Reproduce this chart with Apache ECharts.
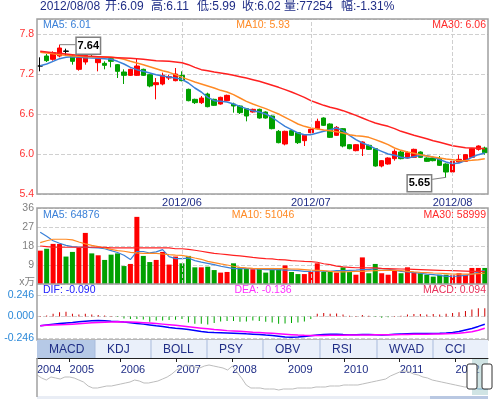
<!DOCTYPE html>
<html>
<head>
<meta charset="utf-8">
<script src="https://cdn.jsdelivr.net/npm/echarts@6/dist/echarts.min.js"></script>
<style>
  html, body { margin: 0; padding: 0; background: #fff; }
  #main { width: 494px; height: 399px; }
</style>
</head>
<body>
<div id="main"></div>
<script>
// trading days on screen, 2012/05/02 .. 2012/08/08
const mayDays = [2, 3, 4, 7, 8, 9, 10, 11, 14, 15, 16, 17, 18, 21, 22, 23, 24, 25, 28, 29, 30, 31];
const junDays = [1, 4, 5, 6, 7, 8, 11, 12, 13, 14, 15, 18, 19, 20, 21, 25, 26, 27, 28, 29];
const julDays = [2, 3, 4, 5, 6, 9, 10, 11, 12, 13, 16, 17, 18, 19, 20, 23, 24, 25, 26, 27, 30, 31];
const augDays = [1, 2, 3, 6, 7, 8];

// [open, close, low, high]
const candles = [
  [7.32, 7.32, 7.24, 7.45], [7.47, 7.40, 7.38, 7.50], [7.42, 7.52, 7.40, 7.54], [7.47, 7.59, 7.45, 7.64],
  [7.545, 7.54, 7.47, 7.58], [7.47, 7.39, 7.34, 7.48], [7.27, 7.45, 7.25, 7.47], [7.38, 7.48, 7.34, 7.54],
  [7.59, 7.50, 7.47, 7.60], [7.37, 7.43, 7.24, 7.44], [7.36, 7.33, 7.27, 7.39], [7.43, 7.39, 7.30, 7.45],
  [7.34, 7.24, 7.14, 7.35], [7.23, 7.18, 7.05, 7.27], [7.18, 7.27, 7.17, 7.28], [7.18, 7.32, 7.17, 7.43],
  [7.27, 7.18, 7.17, 7.28], [7.19, 7.02, 7.00, 7.20], [7.04, 7.07, 6.82, 7.14], [7.05, 7.18, 7.03, 7.22],
  [7.14, 7.16, 7.11, 7.19], [7.10, 7.20, 7.09, 7.29], [7.18, 7.10, 7.09, 7.24], [6.97, 6.80, 6.79, 6.98],
  [6.82, 6.77, 6.75, 6.83], [6.77, 6.84, 6.75, 6.87], [6.90, 6.71, 6.70, 6.92], [6.82, 6.73, 6.72, 6.83],
  [6.75, 6.85, 6.74, 6.86], [6.80, 6.88, 6.79, 6.89], [6.75, 6.72, 6.62, 6.77], [6.72, 6.62, 6.60, 6.73],
  [6.68, 6.57, 6.49, 6.69], [6.63, 6.67, 6.62, 6.68], [6.67, 6.54, 6.53, 6.68], [6.63, 6.54, 6.53, 6.64],
  [6.57, 6.38, 6.37, 6.58], [6.34, 6.17, 6.16, 6.36], [6.15, 6.34, 6.13, 6.35], [6.35, 6.28, 6.27, 6.37],
  [6.32, 6.17, 6.15, 6.33], [6.20, 6.28, 6.12, 6.29], [6.32, 6.37, 6.31, 6.38], [6.38, 6.49, 6.37, 6.53],
  [6.54, 6.43, 6.42, 6.55], [6.45, 6.25, 6.24, 6.46], [6.28, 6.40, 6.27, 6.42], [6.38, 6.12, 6.10, 6.39],
  [6.14, 6.08, 6.07, 6.15], [6.05, 6.14, 6.04, 6.15], [6.08, 6.18, 5.97, 6.19], [6.13, 6.07, 6.06, 6.14],
  [6.08, 5.82, 5.81, 6.09], [5.82, 5.90, 5.80, 5.91], [5.85, 5.94, 5.84, 5.95], [5.93, 6.04, 5.90, 6.07],
  [6.03, 5.93, 5.92, 6.05], [5.94, 6.02, 5.93, 6.04], [5.95, 6.07, 5.94, 6.08], [6.03, 5.95, 5.94, 6.04],
  [5.94, 5.89, 5.88, 5.95], [5.94, 5.90, 5.89, 5.95], [5.93, 5.83, 5.82, 5.97], [5.85, 5.73, 5.65, 5.86],
  [5.73, 5.89, 5.72, 5.90], [5.88, 5.92, 5.87, 5.99], [5.89, 5.99, 5.88, 6.00], [5.95, 6.08, 5.94, 6.09],
  [6.07, 6.12, 6.05, 6.13], [6.09, 6.02, 5.99, 6.11]
];

const ma5 = [7.325, 7.35, 7.39, 7.43, 7.45, 7.46, 7.455, 7.445, 7.44, 7.435,
  7.43, 7.42, 7.39, 7.35, 7.30, 7.265, 7.24, 7.215, 7.19, 7.17,
  7.155, 7.14, 7.12, 7.065, 6.99, 6.93, 6.85, 6.80, 6.79, 6.78,
  6.75, 6.715, 6.68, 6.65, 6.63, 6.60, 6.55, 6.48, 6.415, 6.365,
  6.315, 6.29, 6.29, 6.315, 6.34, 6.365, 6.39, 6.35, 6.28, 6.215,
  6.165, 6.13, 6.08, 6.04, 6.00, 5.98, 5.95, 5.94, 5.96, 5.98,
  5.975, 5.95, 5.915, 5.88, 5.855, 5.865, 5.90, 5.95, 5.99, 6.015];
const ma10 = [7.525, 7.515, 7.505, 7.49, 7.48, 7.47, 7.465, 7.46, 7.46, 7.455,
  7.455, 7.45, 7.44, 7.42, 7.39, 7.365, 7.34, 7.31, 7.28, 7.25,
  7.225, 7.19, 7.15, 7.115, 7.08, 7.05, 7.02, 6.99, 6.955, 6.93,
  6.89, 6.84, 6.79, 6.75, 6.715, 6.68, 6.64, 6.60, 6.55, 6.50,
  6.45, 6.415, 6.39, 6.375, 6.36, 6.35, 6.335, 6.315, 6.29, 6.275,
  6.265, 6.25, 6.215, 6.18, 6.14, 6.09, 6.055, 6.03, 6.01, 5.99,
  5.97, 5.955, 5.94, 5.925, 5.915, 5.90, 5.90, 5.905, 5.915, 5.93];
const ma30 = [7.54, 7.53, 7.52, 7.51, 7.50, 7.49, 7.48, 7.47, 7.465, 7.46,
  7.455, 7.45, 7.445, 7.44, 7.435, 7.43, 7.42, 7.41, 7.40, 7.395,
  7.39, 7.38, 7.37, 7.34, 7.30, 7.265, 7.25, 7.23, 7.215, 7.20,
  7.18, 7.16, 7.14, 7.115, 7.09, 7.06, 7.03, 7.00, 6.965, 6.93,
  6.89, 6.85, 6.80, 6.765, 6.73, 6.70, 6.68, 6.65, 6.615, 6.58,
  6.54, 6.50, 6.465, 6.44, 6.415, 6.38, 6.34, 6.31, 6.28, 6.255,
  6.23, 6.20, 6.175, 6.15, 6.125, 6.11, 6.095, 6.09, 6.085, 6.08];

// volume, unit: 10k shares (x万)
const volume = [15.8, 16.7, 19.0, 19.0, 13.0, 15.2, 17.1, 24.2, 14.5, 13.6,
  11.4, 13.9, 14.5, 8.5, 9.5, 31.8, 13.3, 10.4, 11.4, 15.2,
  9.2, 13.0, 9.8, 13.3, 7.9, 7.9, 8.2, 6.6, 5.4, 5.7,
  9.8, 7.9, 7.3, 7.0, 7.3, 5.4, 7.6, 7.3, 8.8, 5.7,
  4.7, 4.7, 5.7, 9.8, 5.7, 6.0, 5.4, 7.9, 5.7, 4.4,
  12.6, 5.1, 9.5, 5.1, 4.4, 6.6, 5.1, 7.9, 5.7, 5.1,
  4.4, 3.5, 4.4, 4.4, 4.1, 5.1, 4.4, 7.6, 7.6, 7.6];
const vma5 = [24.5, 22.6, 20.5, 19.3, 18.3, 17.7, 17.5, 17.4, 17.2, 17.1,
  16.7, 15.8, 14.9, 13.6, 11.6, 15.4, 15.4, 14.7, 15.2, 16.3,
  13.0, 12.0, 12.0, 12.3, 11.1, 10.4, 9.8, 9.2, 8.4, 7.9,
  7.3, 7.3, 7.3, 7.3, 7.0, 6.8, 6.8, 6.8, 6.6, 6.6,
  6.3, 6.0, 6.0, 6.3, 6.0, 6.0, 6.3, 6.3, 6.5, 6.6,
  6.8, 6.8, 7.3, 7.3, 7.0, 6.6, 6.0, 5.7, 5.4, 5.1,
  4.7, 4.4, 4.1, 3.6, 3.6, 3.8, 4.1, 4.7, 5.7, 6.5];
const vma10 = [19.6, 20.5, 21.2, 21.2, 21.2, 20.9, 19.9, 19.0, 18.3, 17.7,
  17.1, 16.4, 15.8, 15.5, 15.0, 14.7, 14.5, 14.5, 14.5, 14.2,
  13.9, 13.7, 13.6, 13.0, 12.3, 11.7, 10.7, 10.1, 9.5, 9.0,
  8.4, 7.9, 7.6, 7.4, 7.3, 7.3, 7.3, 7.3, 7.3, 7.1,
  7.0, 6.8, 6.6, 6.5, 6.3, 6.0, 5.7, 5.7, 5.8, 6.0,
  6.0, 6.2, 6.3, 6.5, 6.6, 6.5, 6.3, 6.0, 5.7, 5.5,
  5.4, 5.2, 5.1, 4.9, 4.7, 4.7, 4.7, 4.7, 4.9, 5.1];
const vma30 = [18.0, 17.7, 17.4, 17.4, 17.4, 17.4, 17.4, 17.4, 17.4, 17.4,
  17.4, 17.1, 17.1, 17.1, 17.1, 17.1, 17.1, 17.1, 17.1, 17.1,
  17.1, 16.7, 16.7, 16.4, 16.0, 15.5, 15.0, 14.5, 14.2, 13.9,
  13.6, 13.3, 13.0, 12.6, 12.3, 12.0, 11.9, 11.5, 11.4, 11.1,
  10.9, 10.7, 10.6, 10.3, 9.6, 9.2, 8.5, 8.1, 7.9, 7.7,
  7.7, 7.6, 7.6, 7.4, 7.3, 7.2, 7.1, 7.0, 6.9, 6.8,
  6.7, 6.6, 6.5, 6.4, 6.3, 6.2, 6.1, 6.0, 5.95, 5.9];

const dif = [-0.106, -0.097, -0.088, -0.080, -0.074, -0.069, -0.061, -0.054, -0.049, -0.046,
  -0.049, -0.054, -0.057, -0.065, -0.072, -0.080, -0.088, -0.097, -0.106, -0.114,
  -0.126, -0.134, -0.141, -0.149, -0.160, -0.172, -0.180, -0.183, -0.185, -0.188,
  -0.191, -0.194, -0.199, -0.202, -0.206, -0.212, -0.217, -0.225, -0.235, -0.237,
  -0.235, -0.229, -0.221, -0.212, -0.206, -0.204, -0.202, -0.206, -0.208, -0.208,
  -0.206, -0.206, -0.209, -0.212, -0.209, -0.204, -0.200, -0.197, -0.194, -0.194,
  -0.194, -0.194, -0.192, -0.189, -0.183, -0.172, -0.154, -0.137, -0.114, -0.090];
const dea = [-0.106, -0.102, -0.099, -0.096, -0.093, -0.088, -0.083, -0.078, -0.073, -0.069,
  -0.066, -0.063, -0.062, -0.063, -0.065, -0.068, -0.071, -0.076, -0.082, -0.088,
  -0.095, -0.102, -0.110, -0.118, -0.126, -0.134, -0.142, -0.150, -0.156, -0.162,
  -0.166, -0.170, -0.175, -0.180, -0.184, -0.188, -0.193, -0.198, -0.203, -0.208,
  -0.213, -0.216, -0.218, -0.218, -0.217, -0.216, -0.215, -0.214, -0.213, -0.212,
  -0.212, -0.211, -0.210, -0.210, -0.209, -0.208, -0.207, -0.205, -0.204, -0.203,
  -0.202, -0.201, -0.200, -0.198, -0.196, -0.192, -0.184, -0.174, -0.158, -0.136];
const macd = [0.005, 0.010, 0.030, 0.046, 0.053, 0.030, 0.023, 0.030, 0.023, 0.015,
  0.010, 0.004, -0.008, -0.023, -0.030, -0.030, -0.034, -0.061, -0.046, -0.046,
  -0.040, -0.038, -0.030, -0.069, -0.084, -0.084, -0.092, -0.076, -0.057, -0.053,
  -0.053, -0.061, -0.057, -0.046, -0.053, -0.061, -0.069, -0.084, -0.080, -0.076,
  -0.069, -0.057, -0.030, 0.030, 0.038, 0.030, 0.034, 0.023, 0.008, 0.004,
  0.015, 0.008, -0.008, -0.015, -0.011, 0.004, 0.008, 0.023, 0.027, 0.027,
  0.023, 0.027, 0.023, 0.030, 0.038, 0.046, 0.061, 0.080, 0.092, 0.094];

// long history strip at the bottom (monthly, relative level)
const navYears = [2004, 2005, 2006, 2007, 2008, 2009, 2010, 2011, 2012];
const navLevel = [
  25, 22, 20, 23, 22, 21, 23,
  23, 22, 20, 18, 14, 12, 12, 13, 14, 14, 15,
  16, 17, 18, 20, 19, 17, 17, 18, 19, 21, 23, 26,
  30, 32, 35, 34, 33, 32, 34, 35, 34, 33, 32, 30,
  34, 28, 22, 15, 12, 12, 12, 11, 11, 11, 10, 11,
  11, 11, 12, 12, 12, 12, 13, 13, 13, 14, 14, 14,
  15, 15, 15, 15, 16, 17, 18, 19, 20, 21, 24, 26,
  28, 29, 28, 26, 25, 23, 22, 20, 19, 18, 17, 16,
  15, 14, 13, 13, 12, 11, 11, 11];

const titleParts = ["2012/08/08", "开:6.09", "高:6.11", "低:5.99", "收:6.02", "量:77254", "幅:-1.31%"];
const tabs = ["MACD", "KDJ", "BOLL", "PSY", "OBV", "RSI", "WVAD", "CCI"];

const pad = n => (n < 10 ? "0" : "") + n;
const dates = [].concat(
  mayDays.map(d => "2012/05/" + pad(d)),
  junDays.map(d => "2012/06/" + pad(d)),
  julDays.map(d => "2012/07/" + pad(d)),
  augDays.map(d => "2012/08/" + pad(d))
);
const monthStarts = [];
dates.forEach((d, i) => {
  if (i > 0 && d.slice(5, 7) !== dates[i - 1].slice(5, 7)) monthStarts.push(i);
});

// monthly categories for the history strip (trading halted 2005/10)
const navMonths = [];
navYears.forEach(y => {
  const from = y === 2004 ? 6 : 1;
  const to = y === 2012 ? 8 : 12;
  for (let m = from; m <= to; m++) {
    if (y === 2005 && m === 10) continue;
    navMonths.push(y + "-" + pad(m));
  }
});

const FONT = '"Liberation Sans", Arial, "Noto Sans CJK SC", sans-serif';
const UP = "#ff0000", DOWN = "#00a000";
const L = 37, R = 488;

const isDoji = c => Math.abs(c[0] - c[1]) < 0.01;
const candleData = candles.map(c => isDoji(c)
  ? { value: c, itemStyle: { color: "#000", color0: "#000", borderColor: "#000", borderColor0: "#000" } }
  : c);
const volData = volume.map((v, i) => ({
  value: v,
  itemStyle: { color: candles[i][1] >= candles[i][0] ? UP : DOWN }
}));
const macdData = macd.map(v => ({ value: v, itemStyle: { color: v >= 0 ? "#d00000" : "#00a800" } }));

const monthLines = {
  silent: true,
  symbol: ["none", "none"],
  label: { show: false },
  lineStyle: { color: "#cfcfcf", type: "dashed", width: 1 },
  data: monthStarts.map(i => ({ xAxis: dates[i] }))
};

function line(name, data, color, xi, width) {
  return {
    name: name, type: "line", data: data, xAxisIndex: xi, yAxisIndex: xi,
    symbol: "none", smooth: false, silent: true,
    lineStyle: { color: color, width: width || 1.5 }
  };
}
function text(x, y, s, color, opt) {
  opt = opt || {};
  return {
    type: "text", x: x, y: y, silent: true, z: 100,
    style: {
      text: s, fill: color, font: (opt.weight || "normal") + " " + (opt.size || 10.5) + "px " + FONT,
      textAlign: opt.align || "left", textVerticalAlign: "middle"
    }
  };
}
function box(x, y, w, h, stroke, fill, lw) {
  return {
    type: "rect", silent: true, z: 90,
    shape: { x: x, y: y, width: w, height: h },
    style: { fill: fill || "none", stroke: stroke || "none", lineWidth: lw || 1 }
  };
}
function seg(x1, y1, x2, y2, color, lw) {
  return {
    type: "line", silent: true, z: 95,
    shape: { x1: x1, y1: y1, x2: x2, y2: y2 },
    style: { stroke: color, lineWidth: lw || 1 }
  };
}

const graphics = [];
// title, one piece per field
const titleX = [40, 105, 151, 197, 242, 284, 341];
titleParts.forEach((s, i) => graphics.push(text(titleX[i], 7, s, "#1f2d86", { size: 12 })));
// panel legends
graphics.push(text(43, 25, "MA5: 6.01", "#3a80d8"));
graphics.push(text(263, 25, "MA10: 5.93", "#ff8a25", { align: "center" }));
graphics.push(text(486, 25, "MA30: 6.06", "#ff2a2a", { align: "right" }));
graphics.push(text(43, 215, "MA5: 64876", "#3a80d8"));
graphics.push(text(263, 215, "MA10: 51046", "#ff8a25", { align: "center" }));
graphics.push(text(486, 215, "MA30: 58999", "#ff2a2a", { align: "right" }));
graphics.push(text(43, 290, "DIF: -0.090", "#2020ff"));
graphics.push(text(263, 290, "DEA: -0.136", "#ff30ff", { align: "center" }));
graphics.push(text(486, 290, "MACD: 0.094", "#e8305a", { align: "right" }));
graphics.push(text(35, 282, "x万", "#808080", { align: "right" }));

// panel frames
graphics.push(box(L, 19, R - L, 175, "#a0a0a0", null, 1.5));
graphics.push(box(L, 208, R - L, 132, "#a0a0a0", null, 1.5));
graphics.push(seg(L, 284, R, 284, "#a0a0a0", 1.5));

// indicator tabs
const tabX = [37, 95, 151, 207, 263, 320, 377, 433, 488];
tabs.forEach((t, i) => {
  graphics.push(box(tabX[i], 340, tabX[i + 1] - tabX[i], 18, null, i === 0 ? "#b6c9e6" : "#eaf0fa"));
  if (i > 0) graphics.push(seg(tabX[i], 340, tabX[i], 358, "#a9bbdc", 1));
  graphics.push(text(tabX[i] + 12, 349.5, t, "#1f2d86", { size: 12 }));
});

// history strip frame, selection and handles
graphics.push(seg(L, 358, L, 397, "#a0a0a0", 1.5));
graphics.push(box(472, 359, 16, 36, null, "rgba(170,205,205,0.55)"));
[472, 487].forEach(hx => {
  graphics.push({
    type: "rect", silent: true, z: 96,
    shape: { x: hx - 5, y: 364, width: 10, height: 25, r: 2 },
    style: { fill: "#fff", stroke: "#333", lineWidth: 1 }
  });
  graphics.push(seg(hx - 1.5, 372, hx - 1.5, 381, "#333", 1));
  graphics.push(seg(hx + 1.5, 372, hx + 1.5, 381, "#333", 1));
});
graphics.push(box(L, 396, R - L, 3, null, "#e9edf5"));
graphics.push(box(430, 396, 58, 3, null, "#b9c8e2"));

const option = {
  animation: false,
  backgroundColor: "#fff",
  textStyle: { fontFamily: FONT },
  grid: [
    { left: L, top: 19, width: R - L, height: 175 },
    { left: L, top: 208, width: R - L, height: 76 },
    { left: L, top: 284, width: R - L, height: 54 },
    { left: L, top: 358, width: R - L, height: 38 }
  ],
  xAxis: [
    {
      type: "category", gridIndex: 0, data: dates, boundaryGap: true,
      axisLine: { show: false }, axisTick: { show: false }, splitLine: { show: false },
      axisLabel: {
        interval: i => monthStarts.indexOf(i) >= 0, formatter: v => v.slice(0, 7),
        color: "#1f2d86", fontSize: 11, margin: 3
      }
    },
    {
      type: "category", gridIndex: 1, data: dates, boundaryGap: true,
      axisLine: { show: false }, axisTick: { show: false }, axisLabel: { show: false }, splitLine: { show: false }
    },
    {
      type: "category", gridIndex: 2, data: dates, boundaryGap: true,
      axisLine: { show: false }, axisTick: { show: false }, axisLabel: { show: false }, splitLine: { show: false }
    },
    {
      type: "category", gridIndex: 3, data: navMonths, boundaryGap: false, position: "top",
      axisLine: { lineStyle: { color: "#222", width: 1 } },
      axisTick: { inside: true, length: 4, interval: (i, v) => v.slice(5) === "01", lineStyle: { color: "#222" } },
      axisLabel: {
        inside: true, interval: (i, v) => i === 0 || v.slice(5) === "01", formatter: v => v.slice(0, 4),
        align: "left", color: "#1f2d86", fontSize: 11, margin: 6
      },
      splitLine: { show: false }
    }
  ],
  yAxis: [
    {
      gridIndex: 0, min: 5.4, max: 8.025, interval: 0.6,
      axisLine: { show: false }, axisTick: { show: false },
      splitLine: { lineStyle: { color: "#d0d0d0", type: "dashed" } },
      axisLabel: { color: "#ff3333", fontSize: 10.5, margin: 3, showMaxLabel: false, formatter: v => v.toFixed(1) }
    },
    {
      gridIndex: 1, min: 0, max: 36, interval: 9,
      axisLine: { show: false }, axisTick: { show: false },
      splitLine: { lineStyle: { color: "#d0d0d0", type: "dashed" } },
      axisLabel: { color: "#808080", fontSize: 10.5, margin: 3, showMinLabel: false }
    },
    {
      gridIndex: 2, min: -0.246, max: 0.369, interval: 0.246,
      axisLine: { show: false }, axisTick: { show: false },
      splitLine: { lineStyle: { color: "#d0d0d0", type: "dashed" } },
      axisLabel: { color: "#2a88d8", fontSize: 10.5, margin: 3, showMaxLabel: false, formatter: v => v.toFixed(3) }
    },
    { gridIndex: 3, min: 4, max: 42, show: false, splitLine: { show: false } }
  ],
  series: [
    {
      name: "K", type: "candlestick", data: candleData, xAxisIndex: 0, yAxisIndex: 0,
      barWidth: 5, silent: true,
      itemStyle: { color: UP, color0: DOWN, borderColor: UP, borderColor0: DOWN, borderWidth: 1 },
      markLine: monthLines
    },
    line("MA5", ma5, "#3a80d8", 0),
    line("MA10", ma10, "#ff8a25", 0),
    line("MA30", ma30, "#ff2020", 0),
    {
      name: "VOL", type: "bar", data: volData, xAxisIndex: 1, yAxisIndex: 1,
      barWidth: 5, silent: true, markLine: monthLines
    },
    line("VMA5", vma5, "#3a80d8", 1, 1.2),
    line("VMA10", vma10, "#ff8a25", 1, 1.2),
    line("VMA30", vma30, "#ff2020", 1, 1.2),
    {
      name: "MACD", type: "bar", data: macdData, xAxisIndex: 2, yAxisIndex: 2,
      barWidth: 1, silent: true
    },
    line("DIF", dif, "#0000ff", 2, 1.5),
    line("DEA", dea, "#ff00ff", 2, 1.5),
    line("history", navLevel, "#bdbdbd", 3, 1),
    line("selected", navLevel.map((v, i) => (i >= navLevel.length - 4 ? v : null)), "#4a8fd0", 3, 1)
  ],
  graphic: { elements: graphics }
};

const chart = echarts.init(document.getElementById("main"), null, { renderer: "canvas" });
chart.setOption(option);

// boxed labels at the highest high and lowest low
let hi = 0, lo = 0;
candles.forEach((c, i) => {
  if (c[3] > candles[hi][3]) hi = i;
  if (c[2] < candles[lo][2]) lo = i;
});
const hp = chart.convertToPixel({ gridIndex: 0 }, [dates[hi], candles[hi][3]]);
const lp = chart.convertToPixel({ gridIndex: 0 }, [dates[lo], candles[lo][2]]);
graphics.push(seg(hp[0], hp[1], hp[0] + 16, hp[1], "#808080", 1));
graphics.push(box(hp[0] + 16.5, hp[1] - 7.5, 24.5, 17, "#808080", "#fff", 1.5));
graphics.push(text(hp[0] + 28.75, hp[1] + 1, candles[hi][3].toFixed(2), "#000", { size: 11, weight: "bold", align: "center" }));
graphics.push(seg(lp[0], lp[1], lp[0] - 14, lp[1] + 2, "#808080", 1));
graphics.push(box(lp[0] - 39, lp[1] - 2.5, 24.5, 17, "#808080", "#fff", 1.5));
graphics.push(text(lp[0] - 26.75, lp[1] + 6, candles[lo][2].toFixed(2), "#000", { size: 11, weight: "bold", align: "center" }));
option.graphic = { elements: graphics };
chart.setOption(option, true);
</script>
</body>
</html>
